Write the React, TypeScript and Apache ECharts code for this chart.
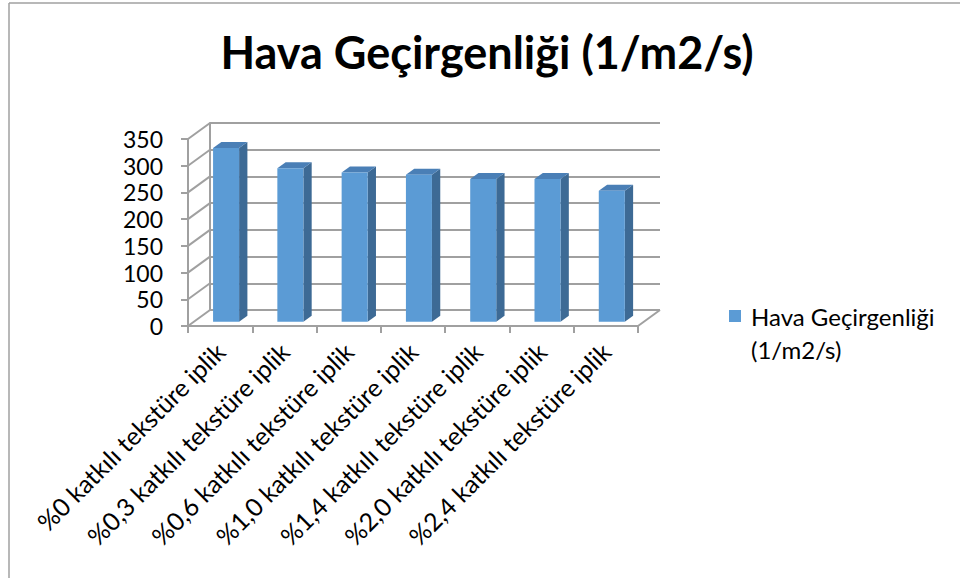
import React, { useEffect, useRef } from "react";
import * as echarts from "echarts";

const categories = [
  "%0 katkılı tekstüre iplik",
  "%0,3 katkılı tekstüre iplik",
  "%0,6 katkılı tekstüre iplik",
  "%1,0 katkılı tekstüre iplik",
  "%1,4 katkılı tekstüre iplik",
  "%2,0 katkılı tekstüre iplik",
  "%2,4 katkılı tekstüre iplik",
];
const values = [325, 287, 279, 275, 267, 267, 245];
const yTicks = [0, 50, 100, 150, 200, 250, 300, 350];
const titleText = "Hava Geçirgenliği (1/m2/s)";
const legendLines = ["Hava Geçirgenliği", "(1/m2/s)"];

const FONT = "Lato";
const GRID_COLOR = "#a0a0a0";
const DEPTH_X = 22;
const DEPTH_Y = -16;
const BAR_POS = 0.27;
const BAR_DX = 8.3;
const BAR_DY = -6;
const BAR_FRONT = "#5b9bd5";
const BAR_SIDE = "#3d6a95";
const BAR_TOP = "#4a7fb6";

export default function App() {
  const ref = useRef<HTMLDivElement>(null);
  useEffect(() => {
    if (!ref.current) return;
    const chart = echarts.init(ref.current, undefined, { renderer: "svg" });
    const lineStyle = { color: GRID_COLOR, width: 2 };
    const option: any = {
      animation: false,
      backgroundColor: "#fff",
      title: {
        text: titleText,
        left: 482,
        top: 24,
        textAlign: "center",
        textStyle: { fontFamily: FONT, fontSize: 45, fontWeight: "bold", color: "#000" },
      },
      grid: [
        { left: 188, top: 139, width: 450, height: 187 },
        { left: 210, top: 123, width: 450, height: 187 },
      ],
      xAxis: [
        {
          type: "category",
          gridIndex: 0,
          data: categories,
          boundaryGap: true,
          axisLine: { show: true, lineStyle },
          axisTick: { show: true, length: 7, interval: 0, lineStyle },
          axisLabel: {
            interval: 0,
            rotate: 45,
            margin: 21,
            fontFamily: FONT,
            fontSize: 25,
            color: "#000",
          },
          splitLine: { show: false },
        },
        {
          type: "category",
          gridIndex: 1,
          data: categories,
          axisLine: { show: false },
          axisTick: { show: false },
          axisLabel: { show: false },
          splitLine: { show: false },
        },
      ],
      yAxis: [
        {
          type: "value",
          gridIndex: 0,
          min: 0,
          max: 350,
          interval: 50,
          axisLine: { show: true, lineStyle },
          axisTick: { show: true, length: 7, lineStyle },
          axisLabel: { margin: 25, fontFamily: FONT, fontSize: 23, color: "#000" },
          splitLine: { show: false },
        },
        {
          type: "value",
          gridIndex: 1,
          min: 0,
          max: 350,
          interval: 50,
          axisLine: { show: true, lineStyle },
          axisTick: { show: false },
          axisLabel: { show: false },
          splitLine: { show: true, lineStyle },
        },
      ],
      series: [
        {
          type: "custom",
          name: "walls",
          xAxisIndex: 0,
          yAxisIndex: 0,
          silent: true,
          clip: false,
          data: yTicks.map((v) => [0, v]),
          renderItem: (params: any, api: any) => {
            const p = api.coord([0, api.value(1)]);
            const w = api.size([1, 0])[0];
            const x = p[0] - w / 2;
            return {
              type: "line",
              shape: { x1: x, y1: p[1], x2: x + DEPTH_X, y2: p[1] + DEPTH_Y },
              style: { stroke: GRID_COLOR, lineWidth: 2 },
            };
          },
        },
        {
          type: "custom",
          name: "floorEdge",
          xAxisIndex: 0,
          yAxisIndex: 0,
          silent: true,
          clip: false,
          data: [[categories.length - 1, 0]],
          renderItem: (params: any, api: any) => {
            const p = api.coord([api.value(0), api.value(1)]);
            const w = api.size([1, 0])[0];
            const x = p[0] + w / 2;
            return {
              type: "line",
              shape: { x1: x, y1: p[1], x2: x + DEPTH_X, y2: p[1] + DEPTH_Y },
              style: { stroke: GRID_COLOR, lineWidth: 2 },
            };
          },
        },
        {
          type: "custom",
          name: titleText,
          xAxisIndex: 0,
          yAxisIndex: 0,
          clip: false,
          itemStyle: { color: BAR_FRONT },
          data: values.map((v, i) => [i, v]),
          encode: { x: 0, y: 1 },
          renderItem: (params: any, api: any) => {
            const i = api.value(0);
            const base = api.coord([i, 0]);
            const top = api.coord([i, api.value(1)]);
            const cw = api.size([1, 0])[0];
            const bw = cw * 0.405;
            const cx = base[0] + DEPTH_X * BAR_POS;
            const by = base[1] + DEPTH_Y * BAR_POS;
            const ty = top[1] + DEPTH_Y * BAR_POS;
            const l = cx - bw / 2;
            const r = cx + bw / 2;
            return {
              type: "group",
              children: [
                {
                  type: "polygon",
                  shape: {
                    points: [
                      [r, ty],
                      [r + BAR_DX, ty + BAR_DY],
                      [r + BAR_DX, by + BAR_DY],
                      [r, by],
                    ],
                  },
                  style: { fill: BAR_SIDE },
                },
                {
                  type: "polygon",
                  shape: {
                    points: [
                      [l, ty],
                      [l + BAR_DX, ty + BAR_DY],
                      [r + BAR_DX, ty + BAR_DY],
                      [r, ty],
                    ],
                  },
                  style: { fill: BAR_TOP },
                },
                {
                  type: "rect",
                  shape: { x: l, y: ty, width: bw, height: by - ty },
                  style: { fill: BAR_FRONT },
                },
              ],
            };
          },
        },
      ],
      graphic: [
        { type: "line", shape: { x1: 9, y1: 3, x2: 9, y2: 578 }, style: { stroke: "#a0a0a0", lineWidth: 1.5 } },
        { type: "line", shape: { x1: 9, y1: 3, x2: 960, y2: 3 }, style: { stroke: "#a0a0a0", lineWidth: 1.5 } },
        { type: "rect", shape: { x: 729, y: 310, width: 12, height: 12 }, style: { fill: BAR_FRONT } },
        {
          type: "text",
          x: 751,
          y: 316,
          style: { text: legendLines[0], fontFamily: FONT, fontSize: 24, fill: "#000", verticalAlign: "middle" },
        },
        {
          type: "text",
          x: 751,
          y: 349,
          style: { text: legendLines[1], fontFamily: FONT, fontSize: 24, fill: "#000", verticalAlign: "middle" },
        },
      ],
    };
    chart.setOption(option);
    return () => chart.dispose();
  }, []);
  return (
    <div
      ref={ref}
      style={{ position: "fixed", left: 0, top: 0, width: 960, height: 578 }}
    />
  );
}
